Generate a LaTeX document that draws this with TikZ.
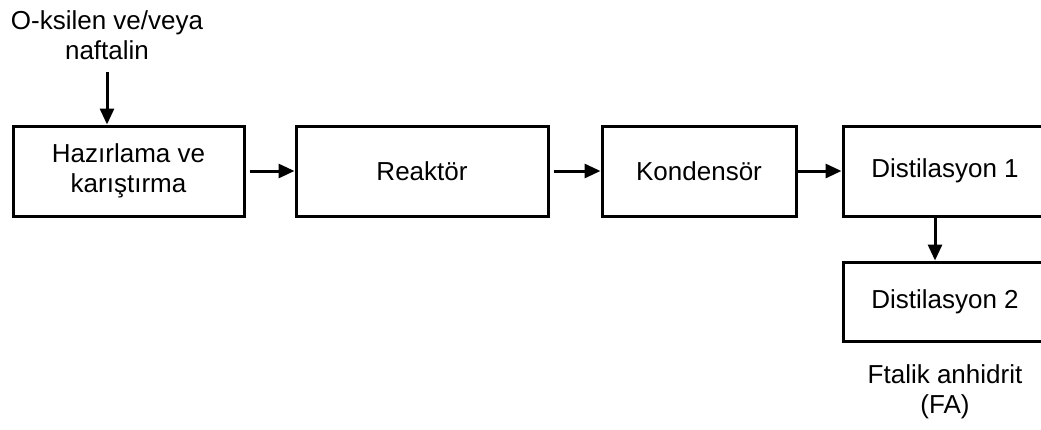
\documentclass[tikz,border=0pt]{standalone}
\usepackage{fontspec}
\setmainfont{Liberation Sans}
\usetikzlibrary{arrows.meta}
\begin{document}
\begin{tikzpicture}[x=1pt,y=-1pt,
  font=\fontsize{26}{30}\selectfont,
  box/.style={draw=black, line width=3pt, minimum height=90pt, inner sep=0pt, align=center},
  lbl/.style={align=center, inner sep=0pt},
  arr/.style={line width=3pt, -{Triangle[length=16pt,width=14pt]}}]
\useasboundingbox (0,0) rectangle (1041,429);
\clip (0,0) rectangle (1041,429);
\node[box, minimum width=231pt] (b1) at (128.5,171) {Hazırlama ve\\karıştırma};
\node[box, minimum width=252pt] (b2) at (422,171) {Reaktör};
\node[box, minimum width=194pt] (b3) at (699,171) {Kondensör};
\node[box, minimum width=204pt] (b4) at (945,171) {Distilasyon 1};
\node[box, minimum width=204pt, minimum height=79pt] (b5) at (945,301.5) {Distilasyon 2};
\node[lbl] (in) at (107,35) {O-ksilen ve/veya\\naftalin};
\node[lbl] (out) at (945,392) {Ftalik anhidrit\\(FA)};
\coordinate (inend) at (107,72);
\draw[arr] (inend) -- (inend |- b1.north);
\draw[arr, shorten <=4pt] (b1.east) -- (b2.west);
\draw[arr, shorten <=4pt] (b2.east) -- (b3.west);
\draw[arr] (b3.east) -- (b4.west);
\draw[arr] ([xshift=-10pt]b4.south) -- ([xshift=-10pt]b5.north);
\end{tikzpicture}
\end{document}
